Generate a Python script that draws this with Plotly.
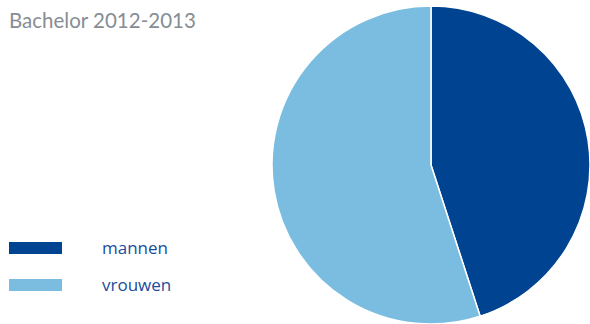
import plotly.graph_objects as go

# Student population by gender, bachelor year 2012-2013
labels = ["mannen", "vrouwen"]
values = [45, 55]
colors = ["#004391", "#7abde0"]
title_text = "Bachelor 2012-2013"

W, H = 590, 324

fig = go.Figure()

fig.add_trace(go.Pie(
    labels=labels,
    values=values,
    marker=dict(colors=colors, line=dict(color="white", width=1.5)),
    sort=False,
    direction="clockwise",
    rotation=0,
    textinfo="none",
    hoverinfo="label+percent",
    showlegend=False,
    domain=dict(x=[272 / W, 1], y=[0, 318 / H]),
))

# Hand-built legend: colour swatch followed by its label
legend_top = [242, 279]
for lab, col, top in zip(labels, colors, legend_top):
    fig.add_shape(
        type="rect", xref="paper", yref="paper",
        x0=9 / W, x1=62 / W, y0=1 - (top + 12) / H, y1=1 - top / H,
        fillcolor=col, line=dict(width=0),
    )
    fig.add_annotation(
        text=lab, xref="paper", yref="paper",
        x=100 / W, y=1 - (top + 5) / H, xanchor="left", yanchor="middle",
        showarrow=False,
        font=dict(family="Open Sans", size=17, color="#1a4c9c"),
    )

fig.add_annotation(
    text=title_text, xref="paper", yref="paper",
    x=7 / W, y=1 - 6 / H, xanchor="left", yanchor="top",
    showarrow=False,
    font=dict(family="Lato", size=20.5, color="#878d93"),
)

fig.update_layout(
    width=W, height=H,
    margin=dict(l=0, r=0, t=0, b=0),
    paper_bgcolor="white",
    plot_bgcolor="white",
)

fig.write_html("out.html")
